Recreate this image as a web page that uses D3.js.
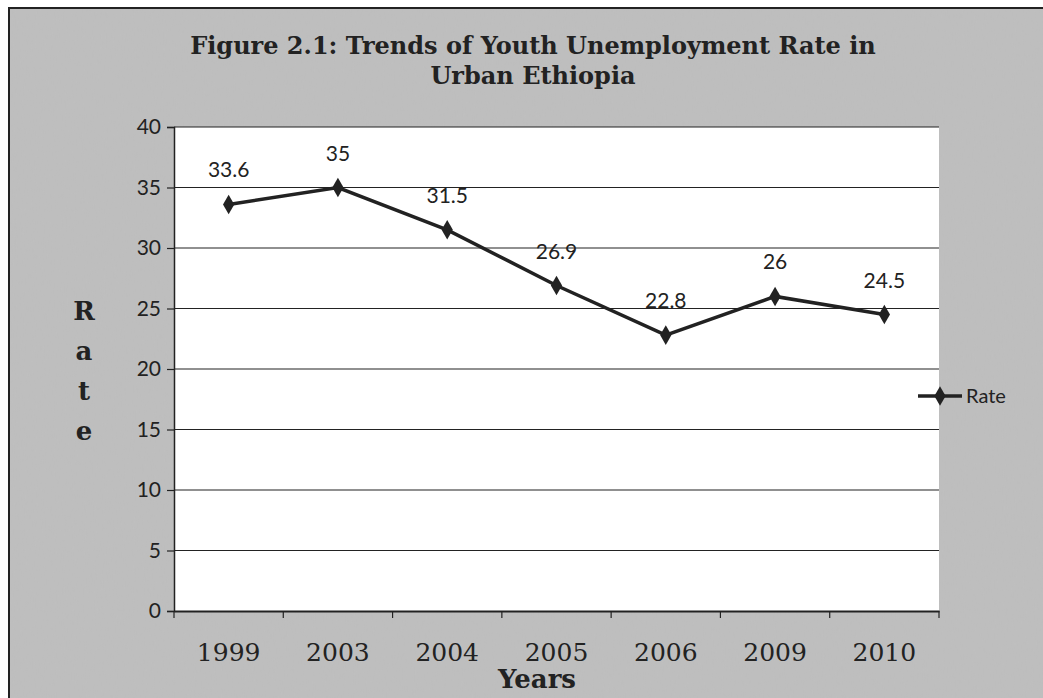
<!DOCTYPE html>
<html><head><meta charset="utf-8">
<script src="https://cdn.jsdelivr.net/npm/d3@7"></script>
<style>body{margin:0;background:#fff}</style>
</head><body>
<script>
const years = ["1999","2003","2004","2005","2006","2009","2010"];
const rates = [33.6, 35, 31.5, 26.9, 22.8, 26, 24.5];
const yTicks = [0,5,10,15,20,25,30,35,40];
const seriesName = "Rate";

const W = 1043, H = 698;
const svg = d3.select("body").append("svg").attr("width", W).attr("height", H);

const defs = svg.append("defs");
const f = defs.append("filter").attr("id","noise").attr("x",0).attr("y",0).attr("width","100%").attr("height","100%");
f.append("feTurbulence").attr("type","fractalNoise").attr("baseFrequency","0.9 0.15").attr("numOctaves",2).attr("seed",3).attr("result","n");
f.append("feColorMatrix").attr("type","matrix").attr("values","0 0 0 0 0.55  0 0 0 0 0.55  0 0 0 0 0.55  0 0 0 0.6 0");

svg.append("rect").attr("x",0).attr("y",0).attr("width",W).attr("height",H).attr("fill","#fff");
svg.append("rect").attr("x",9).attr("y",8).attr("width",W-9).attr("height",H-8).attr("fill","#bdbdbd");
svg.append("rect").attr("x",9).attr("y",8).attr("width",W-9).attr("height",H-8).attr("filter","url(#noise)").attr("opacity",0.5);
svg.append("path").attr("d",`M9,${H} V8 H${W}`).attr("fill","none").attr("stroke","#222").attr("stroke-width",2);

const L = 174, R = 939, T = 127, B = 611;
const x = d3.scaleBand().domain(years).range([L, R]);
const y = d3.scaleLinear().domain([0, 40]).range([B, T]);

svg.append("rect").attr("x",L).attr("y",T).attr("width",R-L).attr("height",B-T).attr("fill","#fff");

// gridlines
svg.append("g").selectAll("line").data(yTicks.filter(d=>d>0)).join("line")
  .attr("x1",L).attr("x2",R).attr("y1",d=>y(d)).attr("y2",d=>y(d))
  .attr("stroke","#222").attr("stroke-width",1.2);

// y axis
const yAxis = svg.append("g").attr("transform",`translate(${L},0)`)
  .call(d3.axisLeft(y).tickValues(yTicks).tickSize(7).tickPadding(6));
yAxis.select(".domain").attr("stroke","#222").attr("stroke-width",1.5);
yAxis.selectAll(".tick line").attr("stroke","#222").attr("stroke-width",1.2);
yAxis.selectAll("text").attr("font-family","Lato, 'Open Sans', sans-serif").attr("font-size",21).attr("fill","#222");

// x axis
const xAxis = svg.append("g").attr("transform",`translate(0,${B})`)
  .call(d3.axisBottom(x).tickSize(0).tickPadding(32));
xAxis.select(".domain").attr("stroke","#222").attr("stroke-width",1.8);
xAxis.selectAll("text").attr("font-family","'DejaVu Serif', 'Liberation Serif', serif").attr("font-size",25).attr("fill","#222");
// boundary ticks
const bounds = years.map(d=>x(d)).concat([R]);
svg.append("g").selectAll("line").data(bounds).join("line")
  .attr("x1",d=>d).attr("x2",d=>d).attr("y1",B).attr("y2",B+7)
  .attr("stroke","#222").attr("stroke-width",1.2);

// line
const cx = d => x(d) + x.bandwidth()/2;
const line = d3.line().x((d,i)=>cx(years[i])).y(d=>y(d));
svg.append("path").datum(rates).attr("d",line).attr("fill","none").attr("stroke","#222").attr("stroke-width",3.5);
const diamond = d3.symbol().type(d3.symbolDiamond).size(110);
svg.append("g").selectAll("path").data(rates).join("path")
  .attr("d",diamond).attr("transform",(d,i)=>`translate(${cx(years[i])},${y(d)})`).attr("fill","#222");

// data labels
svg.append("g").selectAll("text").data(rates).join("text")
  .attr("x",(d,i)=>cx(years[i])).attr("y",d=>y(d)-27)
  .attr("text-anchor","middle").attr("font-family","Lato, 'Open Sans', sans-serif").attr("font-size",21).attr("fill","#222")
  .text(d=>d);

// legend
const lg = svg.append("g").attr("transform","translate(918,396)");
lg.append("line").attr("x1",0).attr("x2",44).attr("stroke","#222").attr("stroke-width",3.5);
lg.append("path").attr("d",diamond).attr("transform","translate(22,0)").attr("fill","#222");
lg.append("text").attr("x",48).attr("y",7).attr("font-family","Lato, 'Open Sans', sans-serif").attr("font-size",20).attr("fill","#222").text(seriesName);

// title
const title = svg.append("text").attr("text-anchor","middle").attr("font-family","'DejaVu Serif', 'Liberation Serif', serif").attr("font-weight","bold").attr("font-size",24).attr("fill","#222");
title.append("tspan").attr("x",533).attr("y",54).text("Figure 2.1: Trends of Youth Unemployment Rate in");
title.append("tspan").attr("x",533).attr("y",84).text("Urban Ethiopia");

// axis titles
svg.append("text").attr("x",537).attr("y",688).attr("text-anchor","middle").attr("font-family","'DejaVu Serif', 'Liberation Serif', serif").attr("font-weight","bold").attr("font-size",26).attr("fill","#222").text("Years");
const rl = svg.append("text").attr("text-anchor","middle").attr("font-family","'DejaVu Serif', 'Liberation Serif', serif").attr("font-weight","bold").attr("font-size",26).attr("fill","#222");
["R","a","t","e"].forEach((c,i)=>rl.append("tspan").attr("x",84).attr("y",320+i*40).text(c));
</script>
</body></html>
